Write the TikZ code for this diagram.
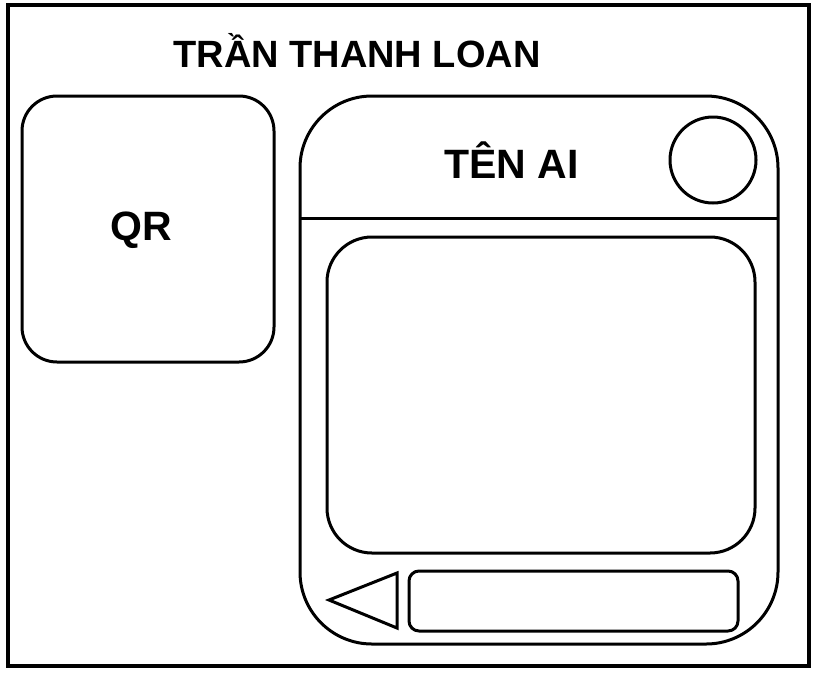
\documentclass[tikz,border=0pt]{standalone}
\usepackage{fontspec}
\setmainfont{Liberation Sans}
\begin{document}
\begin{tikzpicture}[x=1pt,y=-1pt,
  line/.style={draw=black,line width=3pt},
  lbl/.style={font=\bfseries\fontsize{38}{42}\selectfont,anchor=base,inner sep=0pt}]
\useasboundingbox (0,0) rectangle (816,673);
\draw[line,line width=3.5pt] (8,5) rectangle (809,666);
\node[lbl] (title) at (357,67.5) {TRẦN THANH LOAN};
\draw[line,rounded corners=35pt] (22,96) rectangle (274,362);
\node[lbl,font=\bfseries\fontsize{41}{45}\selectfont] (qr) at (141,240) {QR};
\draw[line,rounded corners=72pt] (300,96) rectangle (778,644);
\coordinate (sepL) at (300,218);
\coordinate (sepR) at (778,218);
\draw[line] (sepL) -- (sepR);
\node[lbl,font=\bfseries\fontsize{41}{45}\selectfont] (name) at (511.5,178.5) {TÊN AI};
\node[line,circle,minimum size=86pt,inner sep=0pt] (cam) at (713,160) {};
\draw[line,rounded corners=45pt] (327,237) rectangle (755,553);
\draw[line] (329,600) -- (397,573) -- (397,628) -- cycle;
\draw[line,rounded corners=10pt] (409,571) rectangle (738,631);
\end{tikzpicture}
\end{document}
